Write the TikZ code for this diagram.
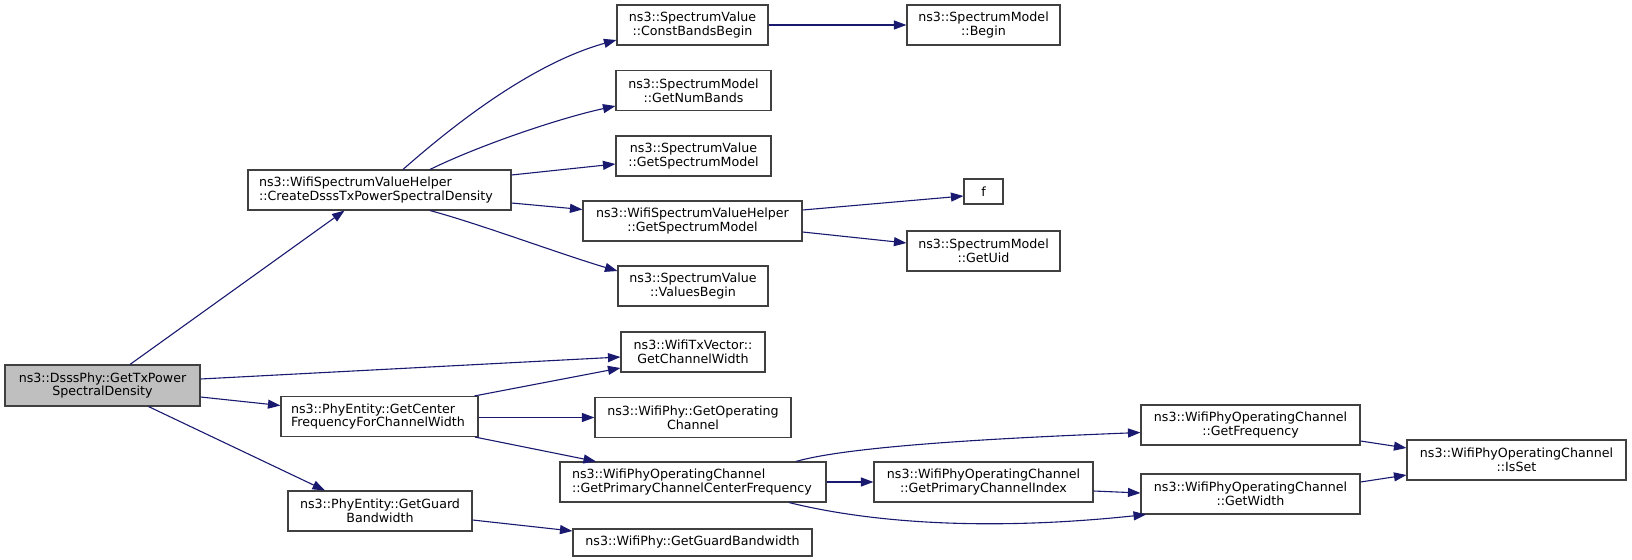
\documentclass[tikz,border=0pt]{standalone}
\usepackage{fontspec}
\setmainfont{DejaVu Sans}
\usetikzlibrary{arrows.meta,calc}
\definecolor{edgecol}{HTML}{191970}
\definecolor{bordercol}{HTML}{404040}
\definecolor{dsssfill}{HTML}{BFBFBF}
\newcommand\dxfont{\fontsize{12.7}{14}\selectfont}
\begin{document}
\begin{tikzpicture}[x=1bp,y=-1bp,
  fn/.style={draw=bordercol, line width=1.1bp, minimum height=40bp, inner sep=0pt, align=center, font=\dxfont},
  lf/.style={fn, align=left},
  edge/.style={draw=edgecol, line width=1.1bp, -{Triangle[length=12.5bp,width=9bp]}}]
\useasboundingbox (0,0) rectangle (1632,560);
% column 0
\node[fn, fill=dsssfill, minimum width=195bp, minimum height=41bp] (dsss) at (102.5,385.5) {ns3::DsssPhy::GetTxPower\\SpectralDensity};
% column 1
\node[lf, minimum width=263bp, text width=241bp] (create) at (379.5,190) {ns3::WifiSpectrumValueHelper\\::CreateDsssTxPowerSpectralDensity};
\node[lf, minimum width=197bp, text width=177bp] (gcf) at (379.5,416.5) {ns3::PhyEntity::GetCenter\\FrequencyForChannelWidth};
\node[fn, minimum width=184bp] (gg) at (380,511) {ns3::PhyEntity::GetGuard\\Bandwidth};
% column 2
\node[fn, minimum width=151bp] (cbb) at (692.5,25) {ns3::SpectrumValue\\::ConstBandsBegin};
\node[fn, minimum width=155bp] (gnb) at (693.5,90.5) {ns3::SpectrumModel\\::GetNumBands};
\node[fn, minimum width=155bp] (svgsm) at (693.5,156) {ns3::SpectrumValue\\::GetSpectrumModel};
\node[fn, minimum width=219bp] (wgsm) at (692.5,221) {ns3::WifiSpectrumValueHelper\\::GetSpectrumModel};
\node[fn, minimum width=150bp] (vb) at (693,286) {ns3::SpectrumValue\\::ValuesBegin};
\node[fn, minimum width=144bp] (txv) at (693,352) {ns3::WifiTxVector::\\GetChannelWidth};
\node[fn, minimum width=196bp] (goc) at (693,417.5) {ns3::WifiPhy::GetOperating\\Channel};
\node[lf, minimum width=266bp, text width=242bp] (gpccf) at (693,482) {ns3::WifiPhyOperatingChannel\\::GetPrimaryChannelCenterFrequency};
\node[fn, minimum width=239bp, minimum height=27bp] (wgg) at (692.5,542.5) {ns3::WifiPhy::GetGuardBandwidth};
% column 3
\node[fn, minimum width=153bp] (smb) at (983.5,25) {ns3::SpectrumModel\\::Begin};
\node[fn, minimum width=39bp, minimum height=25bp] (f) at (983.5,191.5) {f};
\node[fn, minimum width=153bp] (uid) at (983.5,251) {ns3::SpectrumModel\\::GetUid};
\node[fn, minimum width=219bp] (gpci) at (983.5,482) {ns3::WifiPhyOperatingChannel\\::GetPrimaryChannelIndex};
% column 4
\node[fn, minimum width=219bp] (gfreq) at (1250.5,425) {ns3::WifiPhyOperatingChannel\\::GetFrequency};
\node[fn, minimum width=219bp] (gw) at (1250.5,494) {ns3::WifiPhyOperatingChannel\\::GetWidth};
% column 5
\node[fn, minimum width=219bp] (isset) at (1516.5,460) {ns3::WifiPhyOperatingChannel\\::IsSet};
% edges
\draw[edge] ($(dsss.north)+(27.5,0)$) -- ($(create.south)+(-35,0)$);
\draw[edge] ($(dsss.east)+(0,-6.5)$) -- ($(txv.west)+(0,5)$);
\draw[edge] ($(dsss.east)+(0,11.5)$) -- ($(gcf.west)+(0,-11)$);
\draw[edge] ($(dsss.south)+(46,0)$) -- ($(gg.north)+(-55,0)$);
\draw[edge] ($(create.north)+(23.5,0)$) .. controls (450,128) and (530,64) .. ($(cbb.west)+(0,15)$);
\draw[edge] ($(create.north)+(50.5,0)$) .. controls (480,145) and (560,118) .. ($(gnb.west)+(0,15.5)$);
\draw[edge] ($(create.east)+(0,-15)$) -- ($(svgsm.west)+(0,8)$);
\draw[edge] ($(create.east)+(0,13)$) -- ($(wgsm.west)+(0,-11.5)$);
\draw[edge] ($(create.south)+(50.5,0)$) .. controls (480,224) and (560,254) .. ($(vb.west)+(0,-15)$);
\draw[edge] (cbb.east) -- (smb.west);
\draw[edge] ($(wgsm.east)+(0,-11)$) -- ($(f.west)+(0,4.5)$);
\draw[edge] ($(wgsm.east)+(0,11)$) -- ($(uid.west)+(0,-8)$);
\draw[edge] ($(gcf.north)+(95,0)$) -- ($(txv.west)+(0,16)$);
\draw[edge] ($(gcf.east)+(0,1)$) -- (goc.west);
\draw[edge] ($(gcf.south)+(95.5,0)$) -- ($(gpccf.north)+(-97,0)$);
\draw[edge] ($(gg.east)+(0,9)$) -- ($(wgg.west)+(0,-11.5)$);
\draw[edge] ($(gpccf.north)+(103,0)$) .. controls (850,446) and (1000,438) .. ($(gfreq.west)+(0,7.5)$);
\draw[edge] (gpccf.east) -- (gpci.west);
\draw[edge] ($(gpccf.south)+(96,0)$) .. controls (880,525) and (1000,530) .. ($(gw.south)+(-104.5,0)$);
\draw[edge] ($(gpci.east)+(0,9)$) -- ($(gw.west)+(0,-1)$);
\draw[edge] ($(gfreq.east)+(0,16)$) -- ($(isset.west)+(0,-12)$);
\draw[edge] ($(gw.east)+(0,-12)$) -- ($(isset.west)+(0,15)$);
\end{tikzpicture}
\end{document}
